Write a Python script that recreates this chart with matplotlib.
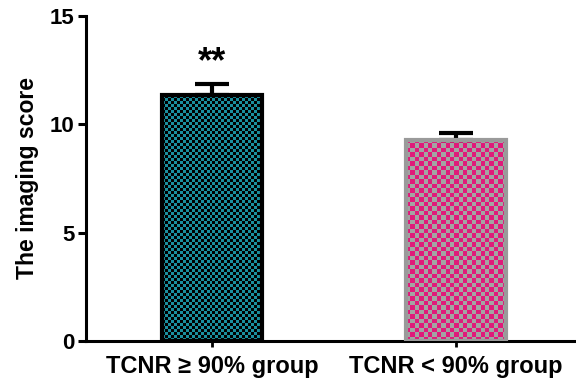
import numpy as np
import matplotlib
matplotlib.use('Agg')
import matplotlib.pyplot as plt
from matplotlib.colors import ListedColormap

# data
groups = ['TCNR \u2265 90% group', 'TCNR < 90% group']
means = [11.35, 9.28]
errs = [0.5, 0.32]
stars = ['**', '']

plt.rcParams['font.family'] = ['Liberation Sans', 'DejaVu Sans']
plt.rcParams['font.weight'] = 'bold'

fig = plt.figure(figsize=(5.76, 3.86), dpi=100)
ax = fig.add_axes([0.149, 0.1166, 0.848, 0.842])

x = np.arange(len(groups))
edge_cols = ['black', '#9a9a9a']
check_cols = [('#000000', '#1a8f9e'), ('#e0197a', '#a3a3a3')]
cell_px = [3, 4.5]

bars = ax.bar(x, means, width=0.41, color='none', edgecolor=edge_cols,
              linewidth=3.0, zorder=3)
ax.errorbar(x, means, yerr=[np.zeros(len(errs)), errs], fmt='none',
            ecolor='black', elinewidth=3, capsize=12, capthick=3, zorder=2)

ax.set_xlim(-0.516, 1.484)
ax.set_ylim(0, 15)
ax.set_yticks([0, 5, 10, 15])

fig.canvas.draw()
# checkerboard fill, clipped to each bar
for b, cols, cp in zip(bars, check_cols, cell_px):
    x0, y0 = b.get_x(), 0
    x1, y1 = b.get_x() + b.get_width(), b.get_height()
    p0 = ax.transData.transform((x0, y0))
    p1 = ax.transData.transform((x1, y1))
    nx = int(np.ceil((p1[0] - p0[0]) / cp))
    ny = int(np.ceil((p1[1] - p0[1]) / cp))
    board = (np.add.outer(np.arange(ny), np.arange(nx)) % 2)
    im = ax.imshow(board, cmap=ListedColormap(list(cols)), interpolation='nearest',
                   extent=(x0, x1, y0, y1), aspect='auto', zorder=1, origin='lower')
    im.set_clip_path(b)

for xi, m, e, s in zip(x, means, errs, stars):
    if s:
        ax.text(xi, m + e + 0.2, s, ha='center', va='bottom', fontsize=26,
                fontweight='bold')

ax.spines['top'].set_visible(False)
ax.spines['right'].set_visible(False)
ax.spines['left'].set_linewidth(2.2)
ax.spines['bottom'].set_linewidth(2.2)
ax.tick_params(axis='y', width=2.2, length=6, labelsize=16, pad=2)
ax.tick_params(axis='x', width=2.0, length=4, labelsize=17, pad=6)
ax.set_xticks(x)
ax.set_xticklabels(groups, fontweight='bold')
for t in ax.get_yticklabels():
    t.set_fontweight('bold')
ax.set_ylabel('The imaging score', fontsize=16.5, fontweight='bold', labelpad=8)

fig.savefig('out.png', dpi=100)
